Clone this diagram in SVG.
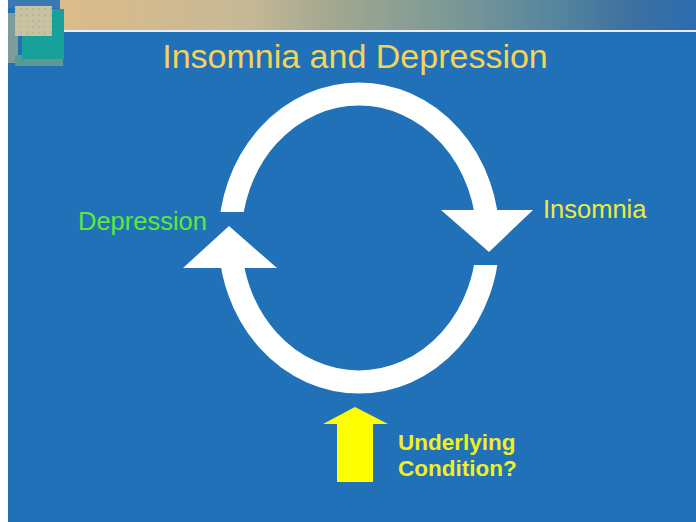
<svg xmlns="http://www.w3.org/2000/svg" width="696" height="522" viewBox="0 0 696 522">
  <defs>
    <linearGradient id="bandGrad" x1="0" y1="0" x2="1" y2="0">
      <stop offset="0" stop-color="#dcbc8a"/>
      <stop offset="0.3" stop-color="#c6b896"/>
      <stop offset="0.42" stop-color="#a3a890"/>
      <stop offset="0.6" stop-color="#7f9a96"/>
      <stop offset="0.78" stop-color="#56859e"/>
      <stop offset="0.9" stop-color="#3c70a0"/>
      <stop offset="1" stop-color="#2c6cb0"/>
    </linearGradient>
    <pattern id="dots" width="6" height="6" patternUnits="userSpaceOnUse">
      <rect width="6" height="6" fill="#c9c2a2"/>
      <circle cx="3" cy="3" r="0.8" fill="#a6a68a"/>
    </pattern>
    <!-- openings in the ring where the arrowheads sit, cut flat -->
    <mask id="ringGaps" maskUnits="userSpaceOnUse" x="0" y="0" width="696" height="522">
      <rect x="0" y="0" width="696" height="522" fill="#ffffff"/>
      <rect x="180" y="212" width="100" height="56" fill="#000000"/>
      <rect x="440" y="210" width="95" height="55" fill="#000000"/>
    </mask>
  </defs>
  <style>
    .label { font-family: "Liberation Sans", Arial, sans-serif; }
    .ring { fill: none; stroke: #ffffff; stroke-width: 23; }
    .head { fill: #ffffff; }
    .cause { fill: #ffff00; }
  </style>

  <!-- page and slide background -->
  <rect x="0" y="0" width="696" height="522" fill="#ffffff"/>
  <rect x="8" y="0" width="688" height="522" fill="#2171b9"/>

  <!-- header band with rule -->
  <rect x="60" y="0" width="636" height="30" fill="url(#bandGrad)"/>
  <rect x="60" y="30" width="636" height="2" fill="#e8eef4"/>

  <!-- corner ornament -->
  <rect x="8" y="0" width="52" height="8" fill="#3a78b4"/>
  <rect x="8" y="13" width="10" height="50" fill="#7d9d98"/>
  <rect x="15" y="55" width="48" height="11" fill="#5a9a92"/>
  <rect x="22" y="9" width="42" height="50" fill="#17a19a"/>
  <rect x="15" y="6" width="37" height="30" fill="url(#dots)"/>

  <!-- title -->
  <text class="label" x="355" y="68" font-size="34" fill="#f5d35a" text-anchor="middle">Insomnia and Depression</text>

  <!-- cycle connectors -->
  <g id="connectors">
    <ellipse class="ring" cx="359" cy="238" rx="129" ry="144" mask="url(#ringGaps)"/>
    <polygon class="head" points="441,210 533,210 489,252"/>
    <polygon class="head" points="183,268 229,226 277,268"/>
    <polygon class="cause" points="355,407 388,424 373,424 373,482 337,482 337,424 323,424"/>
  </g>

  <g id="node-depression">
    <text class="label" x="78" y="230" font-size="25.5" fill="#5ee83a">Depression</text>
  </g>

  <g id="node-insomnia">
    <text class="label" x="543" y="218" font-size="25.5" fill="#ecec3c">Insomnia</text>
  </g>

  <g id="node-underlying">
    <text class="label" x="398" y="450" font-size="22.5" font-weight="bold" fill="#f0f020">Underlying</text>
    <text class="label" x="398" y="476" font-size="22.5" font-weight="bold" fill="#f0f020">Condition?</text>
  </g>
</svg>
